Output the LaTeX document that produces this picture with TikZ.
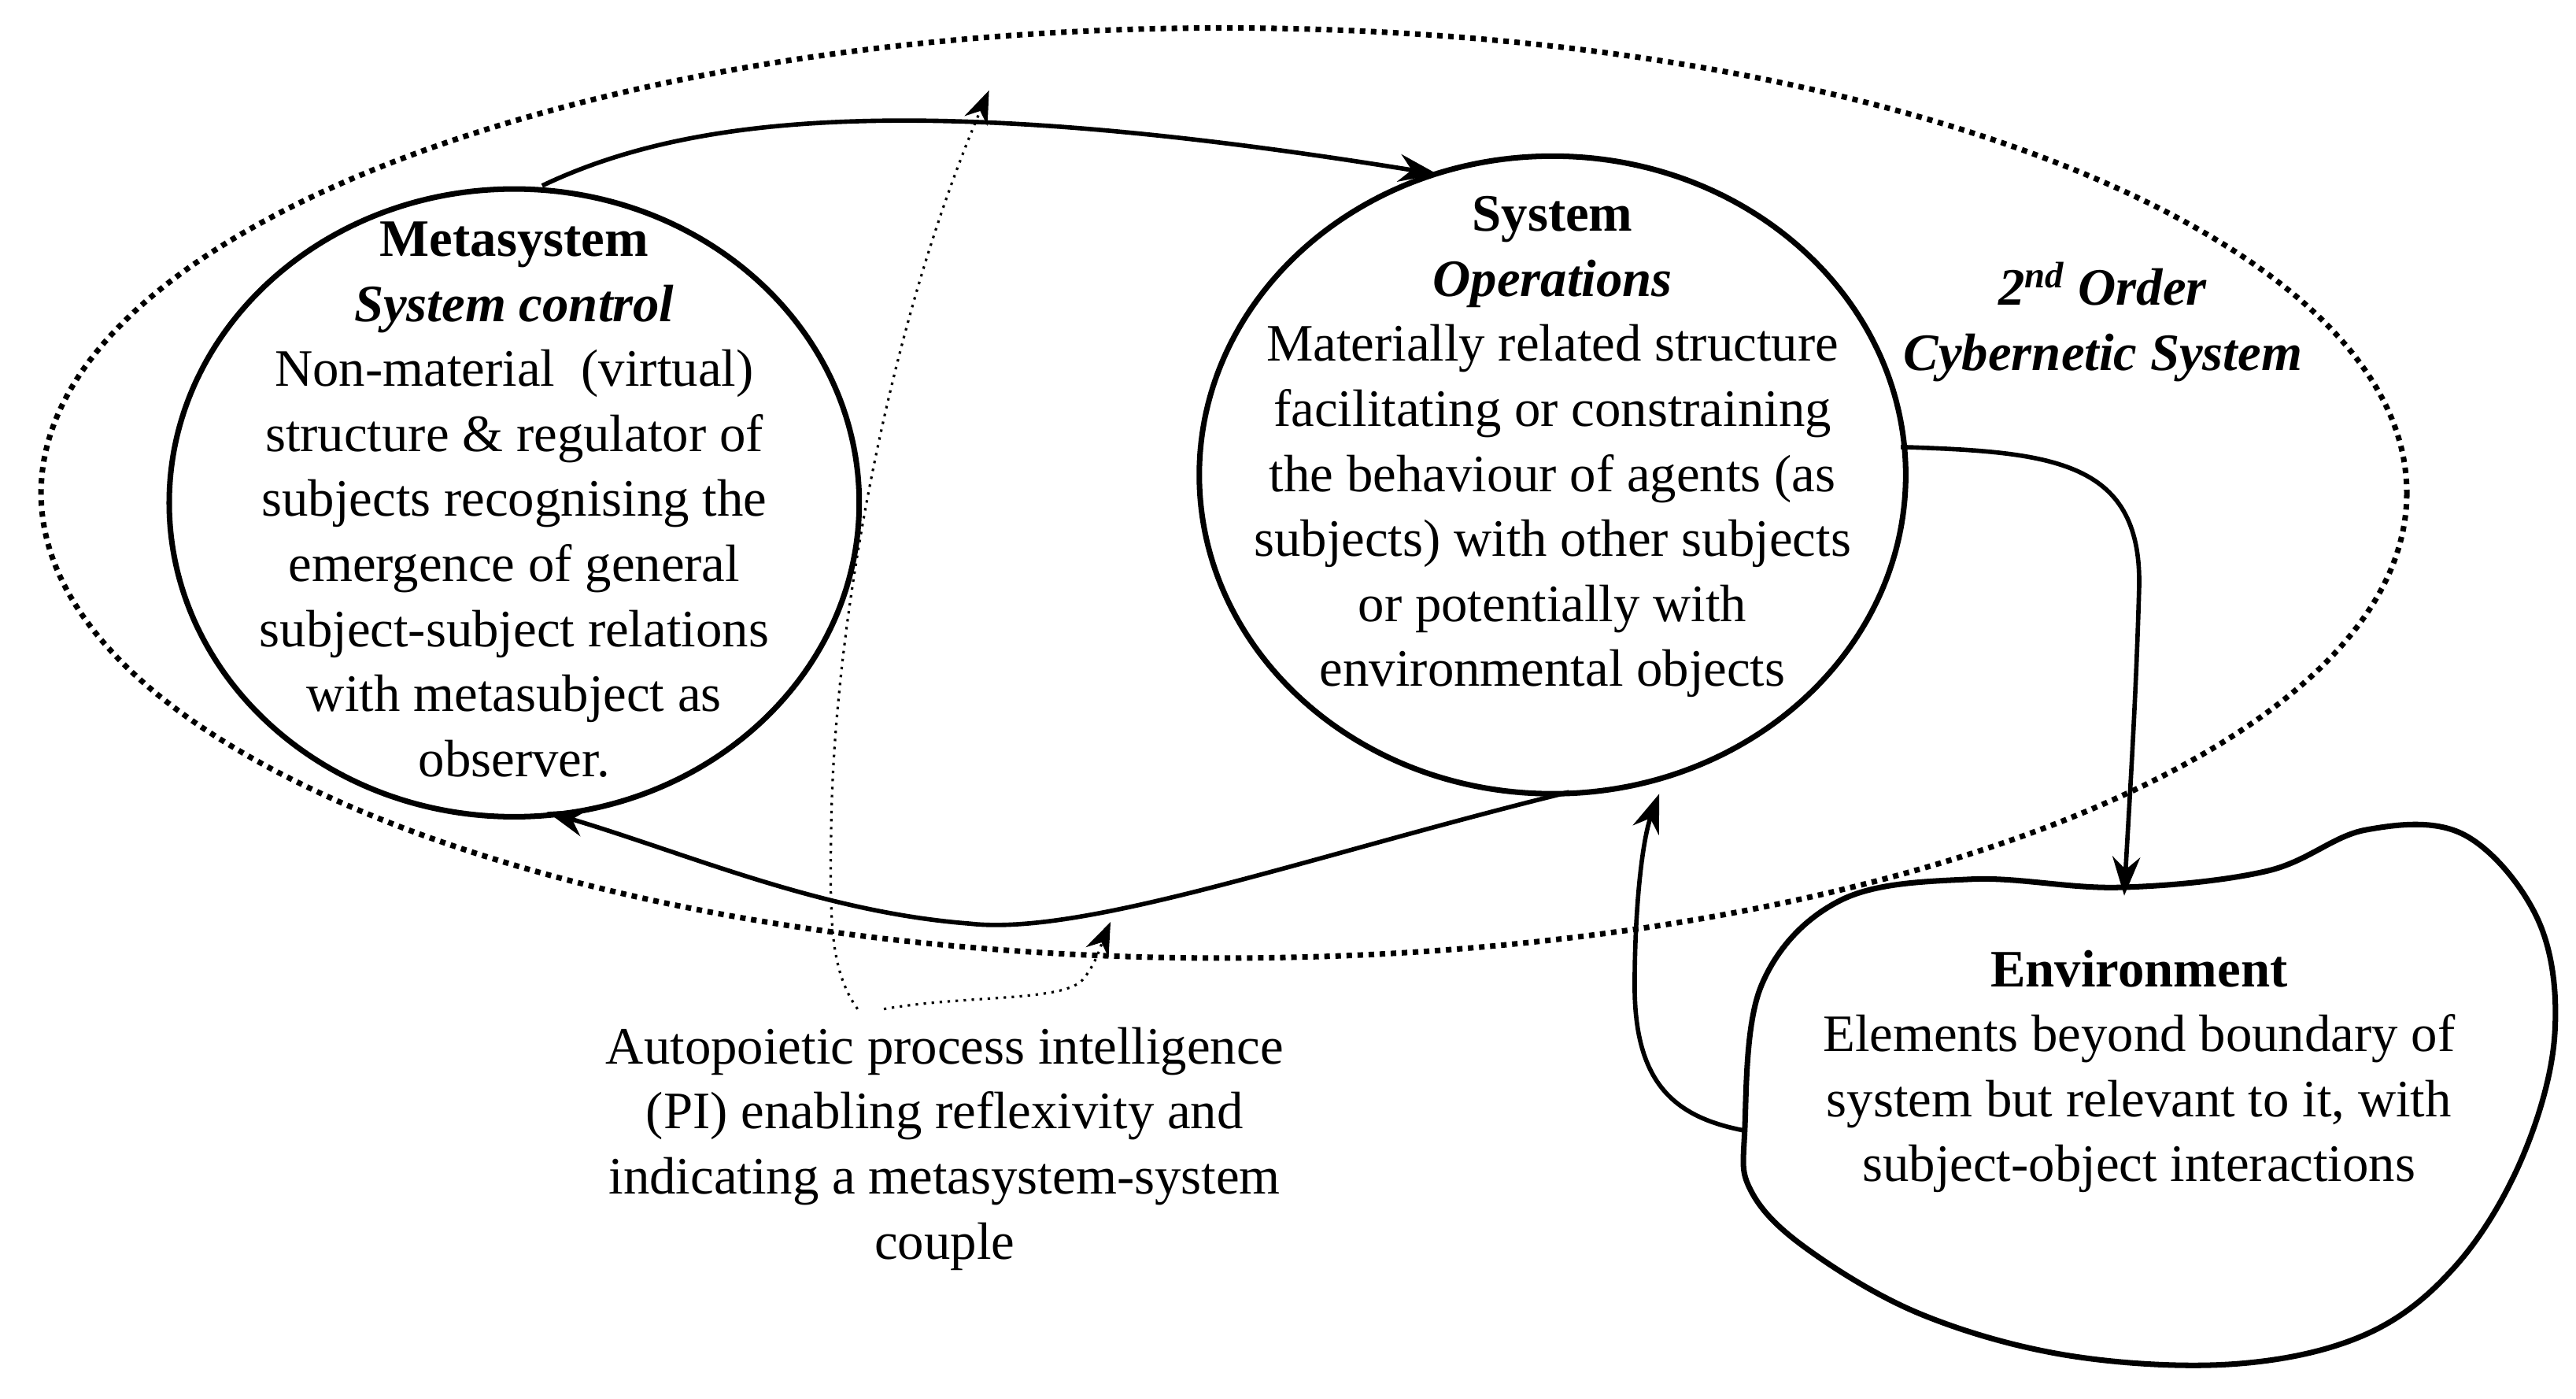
\documentclass[tikz,border=0pt]{standalone}
\usepackage{fontspec}
\setmainfont{Liberation Serif}
\usetikzlibrary{arrows.meta}
\begin{document}
\begin{tikzpicture}[x=0.2087mm,y=-0.2087mm,
  conn/.style={line width=1.6pt,-{Stealth[length=14pt,width=10pt]}},
  dconn/.style={line width=0.9pt,dotted,-{Stealth[length=12pt,width=9pt]}},
  circ/.style={line width=2pt},
  txt/.style={align=center,font=\fontsize{19}{23.5}\selectfont,inner sep=0pt}]
\useasboundingbox (0,0) rectangle (1568,851);
\draw[line width=2pt,dotted] (745,300) ellipse [x radius=720, y radius=283];
\draw[circ] (313,306) ellipse [x radius=210, y radius=191];
\draw[circ] (945,289) ellipse [x radius=215, y radius=194];
\draw[circ] plot[smooth cycle,tension=0.6] coordinates {(1062,688) (1072,600) (1120,548) (1200,535) (1290,540) (1380,530) (1440,505) (1500,508) (1545,560) (1555,630) (1535,705) (1495,770) (1440,812) (1360,830) (1260,825) (1170,800) (1100,760) (1066,725)};
\node[txt] (meta) at (313,304) {\textbf{Metasystem}\\\textbf{\textit{System control}}\\Non-material\ \ (virtual)\\structure \& regulator of\\subjects recognising the\\emergence of general\\subject-subject relations\\with metasubject as\\observer.};
\node[txt] (sys) at (945,272) {\textbf{System}\\\textbf{\textit{Operations}}\\Materially related structure\\facilitating or constraining\\the behaviour of agents (as\\subjects) with other subjects\\or potentially with\\environmental objects};
\node[txt] (cyb) at (1280,196) {\textbf{\textit{2\textsuperscript{nd} Order}}\\\textbf{\textit{Cybernetic System}}};
\node[txt] (env) at (1302,652) {\textbf{Environment}\\Elements beyond boundary of\\system but relevant to it, with\\subject-object interactions};
\node[txt] (pi) at (575,699) {Autopoietic process intelligence\\(PI) enabling reflexivity and\\indicating a metasystem-system\\couple};
\coordinate (mtop) at (330,113);
\coordinate (stop) at (875,106);
\coordinate (sbot) at (955,482);
\coordinate (mbot) at (333,494);
\coordinate (sright) at (1157,272);
\coordinate (etop) at (1293,545);
\coordinate (eleft) at (1062,688);
\coordinate (sbot2) at (1010,483);
\coordinate (pa) at (522,614);
\coordinate (pb) at (538,614);
\coordinate (ptop) at (602,55);
\coordinate (pbot) at (676,561);
\draw[conn] (mtop) .. controls (420,70) and (560,55) .. (stop);
\draw[conn] (sbot) .. controls (800,520) and (660,570) .. (590,562) .. controls (500,555) and (420,520) .. (mbot);
\draw[conn] (sright) .. controls (1250,275) and (1305,280) .. (1302,360) .. controls (1300,430) and (1296,490) .. (etop);
\draw[conn] (eleft) .. controls (1020,680) and (995,660) .. (995,600) .. controls (995,550) and (1000,510) .. (sbot2);
\draw[dconn] (pa) .. controls (505,590) and (505,560) .. (506,500) .. controls (508,380) and (540,200) .. (ptop);
\draw[dconn] (pb) .. controls (590,605) and (650,610) .. (660,595) .. controls (668,585) and (672,570) .. (pbot);
\end{tikzpicture}
\end{document}
